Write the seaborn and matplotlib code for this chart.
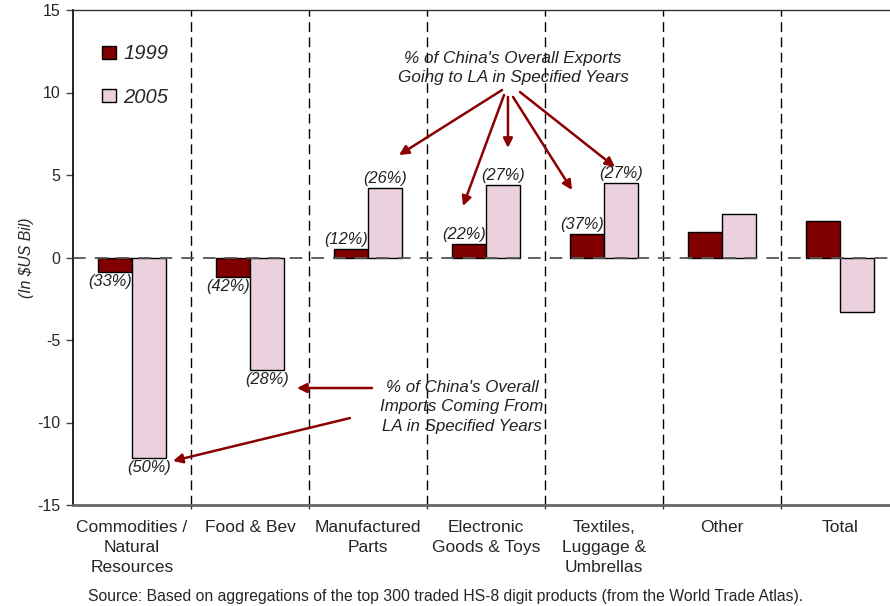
import numpy as np
import pandas as pd
import seaborn as sns
import matplotlib.pyplot as plt

# data
categories = ['Commodities /\nNatural\nResources', 'Food & Bev', 'Manufactured\nParts',
              'Electronic\nGoods & Toys', 'Textiles,\nLuggage &\nUmbrellas', 'Other', 'Total']
years = ['1999', '2005']
vals_1999 = [-0.9, -1.16, 0.5, 0.82, 1.4, 1.56, 2.21]
vals_2005 = [-12.17, -6.82, 4.19, 4.39, 4.5, 2.65, -3.32]
pct_1999 = ['(33%)', '(42%)', '(12%)', '(22%)', '(37%)', '', '']
pct_2005 = ['(50%)', '(28%)', '(26%)', '(27%)', '(27%)', '', '']
y_ticks = [-15, -10, -5, 0, 5, 10, 15]
source = 'Source: Based on aggregations of the top 300 traded HS-8 digit products (from the World Trade Atlas).'

sns.set_style("ticks")
plt.rcParams['font.family'] = ['Liberation Sans', 'DejaVu Sans']

df = pd.DataFrame({
    'category': categories * 2,
    'year': ['1999'] * 7 + ['2005'] * 7,
    'value': vals_1999 + vals_2005,
})

red = '#800000'
pink = '#ebd1de'
arrow_col = '#8b0000'

fig = plt.figure(figsize=(8.9, 6.06), dpi=100)
ax = fig.add_axes([73 / 890, 101 / 606, 826 / 890, 495 / 606])

sns.barplot(data=df, x='category', y='value', hue='year', order=categories,
            hue_order=years, palette={'1999': red, '2005': pink}, width=0.58,
            edgecolor='black', linewidth=1, saturation=1, ax=ax, zorder=3)

ax.set_xlim(-0.5, 6.5)
ax.set_ylim(-15, 15)
ax.set_yticks(y_ticks)
ax.set_yticklabels([str(t) for t in y_ticks], fontsize=11.5)
ax.set_xlabel('')
ax.set_ylabel('(In $US Bil)', fontsize=11.3, style='italic')
ax.yaxis.set_label_coords(-0.058 + 9 / 826, 0.5)

ax.set_xticks(range(7))
ax.set_xticklabels(categories, fontsize=12.5, linespacing=1.4, va='top')
ax.tick_params(axis='x', length=0, pad=11)
ax.set_xticks(np.arange(0.5, 6.5, 1), minor=True)
ax.tick_params(axis='x', which='minor', length=3, width=1, color='#333333')
ax.tick_params(axis='y', length=5, width=1, color='#444444', pad=4)

ax.spines['right'].set_visible(False)
ax.spines['top'].set_color('#333333')
ax.spines['top'].set_linewidth(1)
ax.spines['left'].set_color('black')
ax.spines['left'].set_linewidth(1.2)
ax.spines['bottom'].set_color('#666666')
ax.spines['bottom'].set_linewidth(2)

for b in np.arange(0.5, 6.5, 1):
    ax.axvline(b, color='black', lw=1, dashes=(7, 4), zorder=1)
ax.axhline(0, color='#555555', lw=1.3, dashes=(7, 5), zorder=4)

# percent labels at bar ends
off = 0.145
for i in range(7):
    for v, lab, dx, xs in [(vals_1999[i], pct_1999[i], -5, -off), (vals_2005[i], pct_2005[i], 0, off)]:
        if not lab:
            continue
        dy = 2 if v > 0 else -2
        ax.annotate(lab, (i + xs, v), xytext=(dx, dy), textcoords='offset pixels',
                    ha='center', va='bottom' if v > 0 else 'top', fontsize=11.8,
                    style='italic', color='#222222', zorder=5)

# legend
leg = ax.legend(loc='upper left', bbox_to_anchor=(0.013, 0.967), frameon=False,
                prop={'size': 14.5, 'style': 'italic'}, handlelength=0.7,
                handleheight=0.6, handletextpad=0.35, labelspacing=1.2)

# exports callout
ax.text(3.229, 11.48, "% of China's Overall Exports\nGoing to LA in Specified Years",
        ha='center', va='center', fontsize=12.3, style='italic', color='#222222',
        linespacing=1.35)
exp_arrows = [((3.136, 10.15), (2.263, 6.21)), ((3.153, 9.85), (2.805, 3.12)),
              ((3.186, 9.73), (3.186, 6.64)), ((3.229, 9.73), (3.729, 4.09)),
              ((3.288, 10.03), (4.093, 5.48))]
for start, end in exp_arrows:
    ax.annotate('', xy=end, xytext=start,
                arrowprops=dict(arrowstyle='-|>', color=arrow_col, lw=1.8,
                                mutation_scale=14, shrinkA=0, shrinkB=0), zorder=6)

# imports callout
ax.text(2.797, -9.06, "% of China's Overall\nImports Coming From\nLA in Specified Years",
        ha='center', va='center', fontsize=12.2, style='italic', color='#222222',
        linespacing=1.35, zorder=6)
imp_arrows = [((2.034, -7.91), (1.398, -7.91)), ((1.847, -9.73), (0.347, -12.33))]
for start, end in imp_arrows:
    ax.annotate('', xy=end, xytext=start,
                arrowprops=dict(arrowstyle='-|>', color=arrow_col, lw=1.8,
                                mutation_scale=14, shrinkA=0, shrinkB=0), zorder=6)

fig.text(445 / 890, 10 / 606, source, ha='center', va='center', fontsize=11.3)

fig.savefig('out.png', dpi=100)
